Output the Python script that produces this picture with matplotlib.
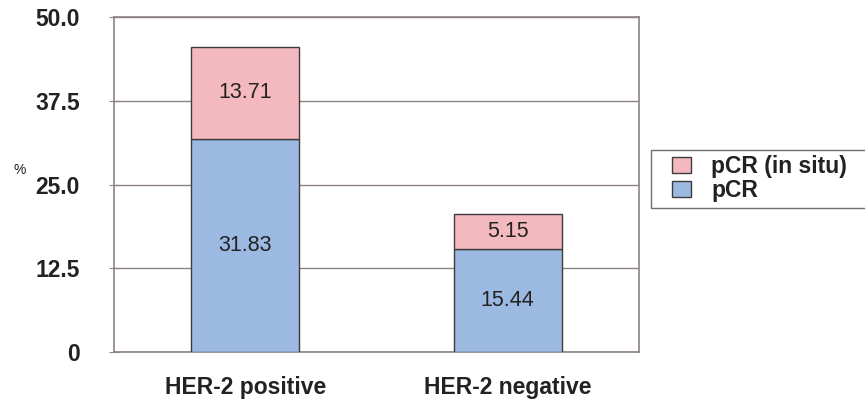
import matplotlib.pyplot as plt
from matplotlib.patches import Rectangle

plt.rcParams['font.family'] = ['Liberation Sans', 'DejaVu Sans']

groups = ["HER-2 positive", "HER-2 negative"]
pcr = [31.83, 15.44]
pcr_in_situ = [13.71, 5.15]
y_ticks = [0, 12.5, 25.0, 37.5, 50.0]
y_tick_labels = ["0", "12.5", "25.0", "37.5", "50.0"]

pink = "#f4b9bf"
blue = "#9cb9e1"
axis_col = "#8c8280"
edge_col = "#3c3c3c"

fig = plt.figure(figsize=(8.65, 4.0), dpi=100)
ax = fig.add_axes([0.1318, 0.12, 0.6069, 0.8375])

x = list(range(len(groups)))
width = 0.41
ax.bar(x, pcr, width, color=blue, edgecolor=edge_col, linewidth=1, label="pCR", zorder=3)
ax.bar(x, pcr_in_situ, width, bottom=pcr, color=pink, edgecolor=edge_col,
       linewidth=1, label="pCR (in situ)", zorder=3)

# значения в центре каждого сегмента
for i in x:
    ax.text(i, pcr[i] / 2, f"{pcr[i]:.2f}", ha="center", va="center", fontsize=15.5, color="#222222", zorder=4)
    ax.text(i, pcr[i] + pcr_in_situ[i] / 2, f"{pcr_in_situ[i]:.2f}", ha="center", va="center",
            fontsize=15.5, color="#222222", zorder=4)

ax.set_xlim(-0.5, 1.5)
ax.set_ylim(0, 50)
ax.set_yticks(y_ticks)
ax.set_yticklabels(y_tick_labels, fontsize=16.5, fontweight="bold", color="#222222")
ax.set_xticks(x)
ax.set_xticklabels(groups, fontsize=16.5, fontweight="bold", color="#222222")
ax.tick_params(axis="x", length=0, pad=17)
ax.tick_params(axis="y", direction="inout", length=7, color=axis_col, pad=21)

ax.yaxis.grid(True, color=axis_col, linewidth=1, zorder=0)
for side in ["left", "right", "top", "bottom"]:
    ax.spines[side].set_color(axis_col)
    ax.spines[side].set_linewidth(1.2)

fig.text(0.016, 0.575, "%", fontsize=10, color="#222222", ha="left", va="center")

# рамка легенды выходит за правый край
fig.patches.append(Rectangle((651 / 865, 1 - 208 / 400), 0.3, 58 / 400, transform=fig.transFigure,
                             facecolor="white", edgecolor="#707070", linewidth=1))
handles, labels = ax.get_legend_handles_labels()
leg = fig.legend(handles[::-1], labels[::-1], loc="upper left", bbox_to_anchor=(656 / 865, 1 - 139 / 400),
                 frameon=False, prop={"size": 16.5, "weight": "bold"}, handlelength=0.83, handleheight=0.65,
                 handletextpad=0.87, labelspacing=0.05, borderpad=0.2)
for t in leg.get_texts():
    t.set_color("#222222")

fig.savefig("out.png", dpi=100)
